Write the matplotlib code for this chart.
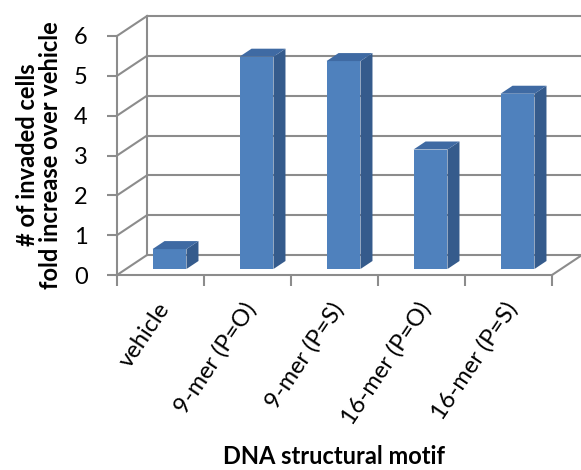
import numpy as np
import matplotlib
matplotlib.use("Agg")
import matplotlib.pyplot as plt
from matplotlib.patches import Polygon

plt.rcParams['font.family'] = ['Lato', 'DejaVu Sans']

# fold increase of invaded cells per DNA motif
motifs = ['vehicle', '9-mer (P=O)', '9-mer (P=S)', '16-mer (P=O)', '16-mer (P=S)']
fold_increase = [0.5, 5.33, 5.22, 3.0, 4.4]
yticks = [0, 1, 2, 3, 4, 5, 6]

# oblique "3D" look: depth offset of the back wall, in data units
DX, DY = 0.345, 0.502
D0, D1 = 0.3, 0.7          # bars sit between these depth fractions
bar_w = 0.39

grid_c = '#8c8c8c'
front_c, side_c, top_c = '#4f81bd', '#355b8c', '#3f6aa3'
FS = 17

fig = plt.figure(figsize=(5.81, 4.70), dpi=100)
ax = fig.add_axes([117/581, 195/470, 435/581, 239/470])
n = len(motifs)
ax.set_xlim(0, n)
ax.set_ylim(0, yticks[-1])
ax.set_facecolor('none')

# back wall gridlines
for k in yticks:
    ax.plot([DX, n + DX], [k + DY, k + DY], color=grid_c, lw=1.5,
            clip_on=False, zorder=1, solid_capstyle='butt')
    # left wall diagonals
    ax.plot([0, DX], [k, k + DY], color=grid_c, lw=1.5, clip_on=False, zorder=1)
ax.plot([DX, DX], [DY, yticks[-1] + DY], color=grid_c, lw=1.5, clip_on=False, zorder=1)
# floor right edge
ax.plot([n, n + DX], [0, DY], color=grid_c, lw=1.5, clip_on=False, zorder=1)

# bars
for i, v in enumerate(fold_increase):
    x0 = i + 0.5 - bar_w / 2 + D0 * DX
    x1 = x0 + bar_w
    y0 = D0 * DY
    y1 = y0 + v
    ddx, ddy = (D1 - D0) * DX, (D1 - D0) * DY
    front = Polygon([(x0, y0), (x1, y0), (x1, y1), (x0, y1)], closed=True,
                    facecolor=front_c, edgecolor='none', zorder=3, clip_on=False)
    side = Polygon([(x1, y0), (x1 + ddx, y0 + ddy), (x1 + ddx, y1 + ddy), (x1, y1)],
                   closed=True, facecolor=side_c, edgecolor='none', zorder=3, clip_on=False)
    top = Polygon([(x0, y1), (x1, y1), (x1 + ddx, y1 + ddy), (x0 + ddx, y1 + ddy)],
                  closed=True, facecolor=top_c, edgecolor='none', zorder=3, clip_on=False)
    for p in (front, side, top):
        ax.add_patch(p)

for s in ['top', 'right']:
    ax.spines[s].set_visible(False)
for s in ['left', 'bottom']:
    ax.spines[s].set_color(grid_c)
    ax.spines[s].set_linewidth(1.5)
    ax.spines[s].set_zorder(2)

ax.set_yticks(yticks)
ax.set_yticklabels([str(t) for t in yticks], fontsize=FS)
ax.set_xticks(np.arange(n + 1))
ax.set_xticklabels([])
ax.tick_params(axis='y', length=7, width=1.5, color=grid_c, pad=14)
ax.tick_params(axis='x', length=8, width=1.5, color=grid_c)

# category labels, rotated, under each category
for i, name in enumerate(motifs):
    ax.text(i + 0.55, -0.75, name, rotation=56, rotation_mode='anchor',
            ha='right', va='center', fontsize=FS, transform=ax.transData)

fig.text(39/581, 1 - 155/470, '# of invaded cells\nfold increase over vehicle',
         rotation=90, ha='center', va='center', multialignment='center',
         fontsize=FS, fontweight='bold', linespacing=0.95)
fig.text(334/581, 1 - 457/470, 'DNA structural motif', ha='center', va='center',
         fontsize=FS, fontweight='bold')

fig.savefig('out.png', dpi=100)
